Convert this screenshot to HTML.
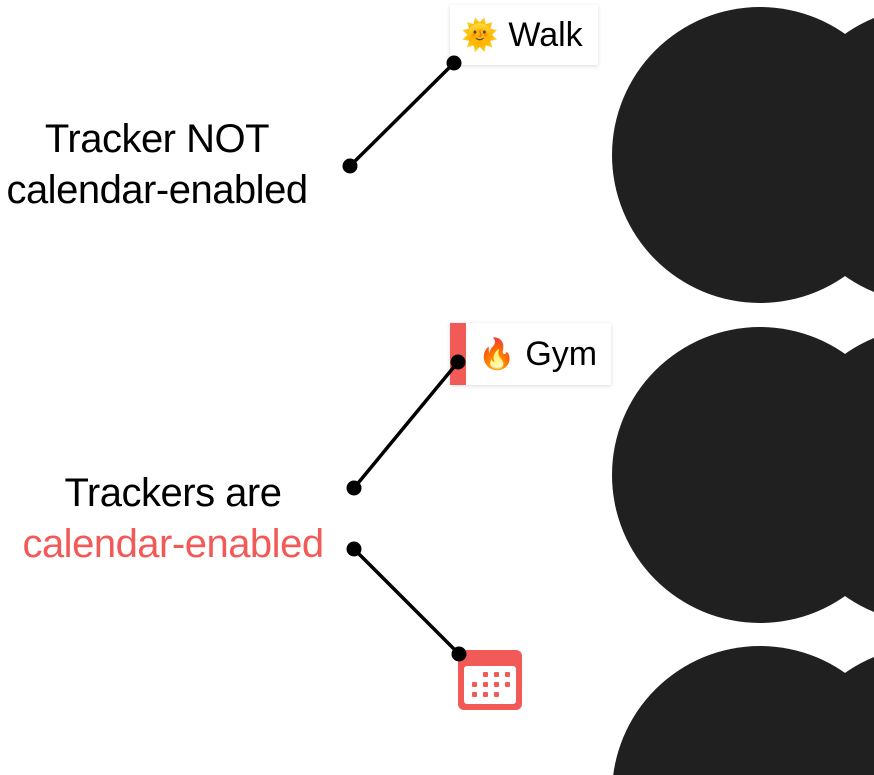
<!DOCTYPE html>
<html><head><style>
html,body{margin:0;width:874px;height:775px;overflow:hidden}
body{background:#fff;position:relative;font-family:"Liberation Sans",sans-serif}
.t{position:absolute;font-size:40px;text-align:center;color:#000;line-height:51px;letter-spacing:-0.5px}
.box{position:absolute;background:#fff;box-shadow:0 1px 4px rgba(0,0,0,0.15);font-size:34px;display:flex;align-items:center}
svg{overflow:hidden}
</style></head><body>
<svg width="874" height="775" style="position:absolute;left:0;top:0">
<g fill="#202020">
<circle cx="930" cy="155" r="148"/><circle cx="760" cy="155" r="148"/>
<circle cx="930" cy="475" r="148"/><circle cx="760" cy="475" r="148"/>
<circle cx="930" cy="794" r="148"/><circle cx="760" cy="794" r="148"/>
</g>
</svg>
<div class="t" style="left:0;width:314px;top:114px">Tracker NOT<br>calendar-enabled</div>
<div class="t" style="left:0;width:346px;top:468px">Trackers are<br><span style="color:#f25a58">calendar-enabled</span></div>
<div class="box" style="left:450px;top:5px;width:148px;height:60px"><span style="margin-left:11px;font-size:30px">🌞</span><span style="margin-left:10px">Walk</span></div>
<div class="box" style="left:450px;top:323px;width:161px;height:62px"><div style="width:16px;height:62px;background:#f25a58"></div><span style="margin-left:12px;font-size:30px">🔥</span><span style="margin-left:10px">Gym</span></div>
<svg width="874" height="775" style="position:absolute;left:0;top:0">
<g fill="#f25a58"><rect x="458" y="650" width="64" height="60" rx="6"/></g>
<rect x="464" y="666" width="52" height="38" rx="3" fill="#fff"/>
<g fill="#f25a58">
<rect x="483" y="672" width="5" height="5" rx="1"/><rect x="494" y="672" width="5" height="5" rx="1"/><rect x="505" y="672" width="5" height="5" rx="1"/>
<rect x="472" y="682" width="5" height="5" rx="1"/><rect x="483" y="682" width="5" height="5" rx="1"/><rect x="494" y="682" width="5" height="5" rx="1"/><rect x="505" y="682" width="5" height="5" rx="1"/>
<rect x="472" y="692" width="5" height="5" rx="1"/><rect x="483" y="692" width="5" height="5" rx="1"/><rect x="494" y="692" width="5" height="5" rx="1"/>
</g>
<g stroke="#000" stroke-width="3.5"><line x1="350" y1="166" x2="454" y2="63"/><line x1="354" y1="488" x2="458" y2="362"/><line x1="354" y1="549" x2="459" y2="654"/></g>
<g fill="#000"><circle cx="350" cy="166" r="7.5"/><circle cx="454" cy="63" r="7.5"/><circle cx="354" cy="488" r="7.5"/><circle cx="458" cy="362" r="7.5"/><circle cx="354" cy="549" r="7.5"/><circle cx="459" cy="654" r="7.5"/></g>
</svg>
</body></html>
